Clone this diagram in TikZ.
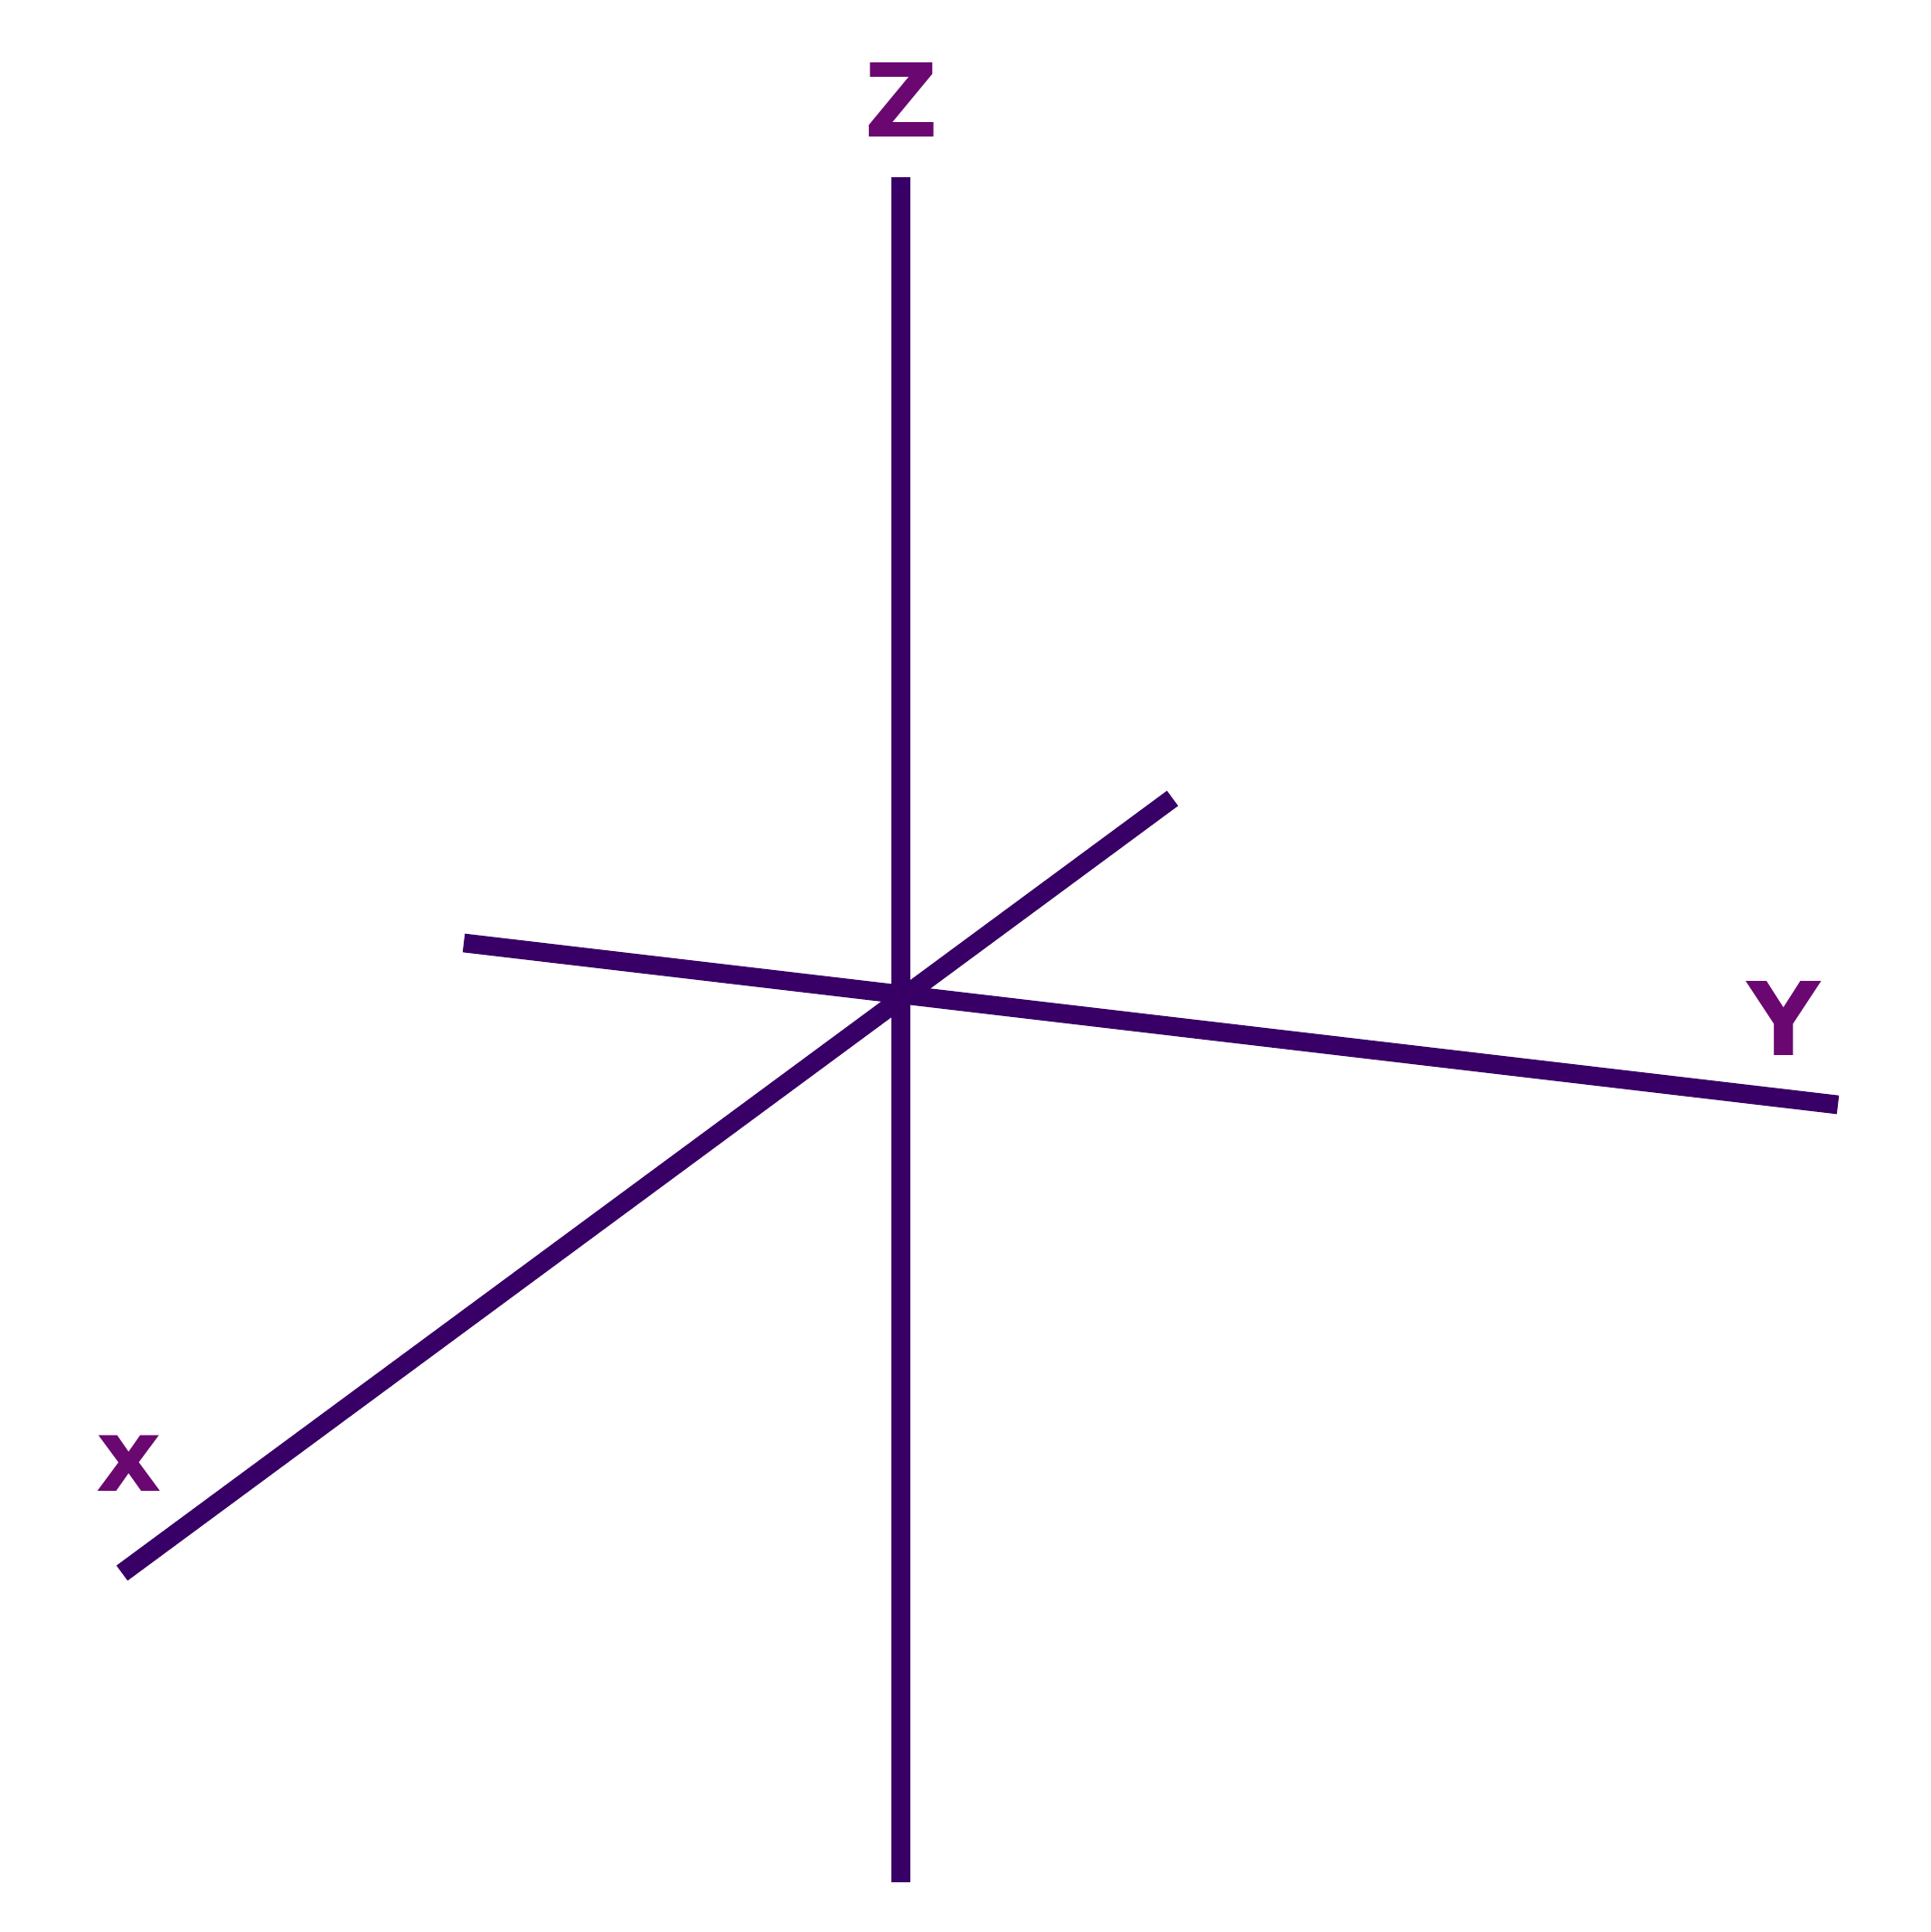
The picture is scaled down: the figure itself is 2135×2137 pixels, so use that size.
\documentclass[tikz,border=0pt]{standalone}
\usepackage{fontspec}
\setsansfont{DejaVu Sans}
\usetikzlibrary{positioning}
\definecolor{AxisInk}{HTML}{380066}
\definecolor{AxisLabel}{HTML}{6B0770}

\begin{document}
\begin{tikzpicture}[x=0.01cm,y=-0.01cm,
    font=\fontsize{32}{38}\selectfont\sffamily\bfseries,
    axis/.style={draw=AxisInk,line width=5.9pt,line cap=butt},
    axislabel/.style={text=AxisLabel,inner sep=0pt,anchor=center}]
  \useasboundingbox (0,0) rectangle (2135,2137);
  % axis ends
  \coordinate (zTop) at (996.5,196);
  \coordinate (zBot) at (996.5,2082);
  \coordinate (xEnd) at (135,1740);
  \coordinate (xBack) at (1297,883);
  \coordinate (yEnd) at (2033,1222);
  \coordinate (yBack) at (513,1043);
  \draw[axis] (zTop) -- (zBot);
  \draw[axis] (xEnd) -- (xBack);
  \draw[axis] (yBack) -- (yEnd);
  % labels
  \node[axislabel] (zLabel) at (997.5,110) {Z};
  \node[axislabel] (yLabel) at (1973,1126) {Y};
  \node[axislabel] (xLabel) at (143,1619) {x};
\end{tikzpicture}
\end{document}
